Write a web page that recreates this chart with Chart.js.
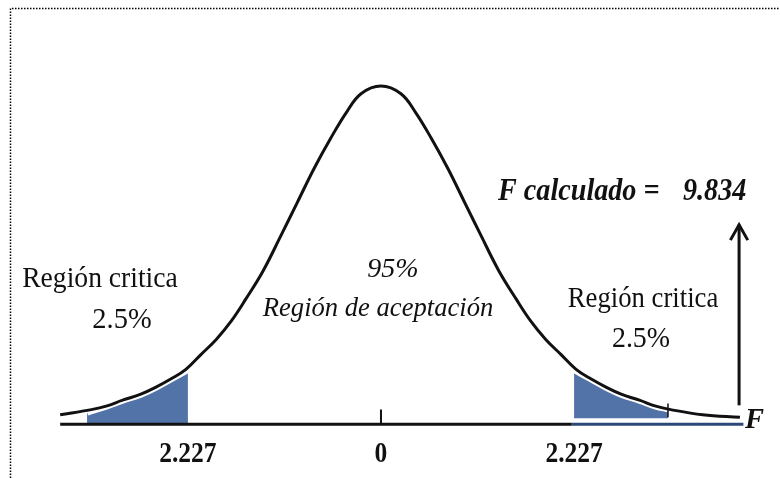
<!DOCTYPE html>
<html>
<head>
<meta charset="utf-8">
<script src="https://cdn.jsdelivr.net/npm/chart.js@4.4.1/dist/chart.umd.min.js"></script>
<style>
  body { margin: 0; background: #fff; }
  #wrap { width: 780px; height: 478px; position: relative; }
</style>
</head>
<body>
<div id="wrap"><canvas id="tChart"></canvas></div>
<script>
// curve (t value, height)
const tValues = [-3.70, -3.34, -3.17, -2.98, -2.77, -2.60, -2.42, -2.25, -2.08, -1.90, -1.73, -1.56, -1.36, -1.16, -0.97, -0.77, -0.58, -0.40, -0.23, 0,
                 0.23, 0.40, 0.58, 0.77, 0.97, 1.16, 1.36, 1.56, 1.73, 1.90, 2.08, 2.25, 2.42, 2.60, 2.77, 2.98, 3.17, 3.34, 3.71, 4.14];
const density = [0.005, 0.011, 0.015, 0.022, 0.029, 0.037, 0.047, 0.058, 0.075, 0.093, 0.114, 0.140, 0.173, 0.213, 0.252, 0.293, 0.328, 0.358, 0.380, 0.389,
                 0.380, 0.358, 0.328, 0.293, 0.252, 0.213, 0.173, 0.140, 0.114, 0.093, 0.075, 0.058, 0.047, 0.037, 0.029, 0.022, 0.015, 0.011, 0.005, 0.002];

// shaded critical regions
const leftTailT = [-3.39, -3.17, -2.98, -2.77, -2.60, -2.42, -2.227];
const leftTailD = [0.008, 0.015, 0.022, 0.029, 0.037, 0.047, 0.058];
const rightTailT = [2.227, 2.42, 2.60, 2.77, 2.98, 3.17, 3.31];
const rightTailD = [0.058, 0.047, 0.037, 0.029, 0.022, 0.015, 0.012];

// axis and ticks
const axisT = [-3.70, 2.20, 4.18];
const axisLevel = -0.006;
const tickValues = [-2.227, 0, 2.227];
const tickLabels = ['2.227', '0', '2.227'];
const zeroTick = [0.011, -0.006];
const endTickT = 3.31;
const endTick = [0.018, 0.002];

// F calculado arrow
const fCalculado = '9.834';
const arrowT = 4.13;
const arrowFrom = 0.016;
const arrowTo = 0.227;

const pts = (xs, ys) => xs.map((x, i) => ({x: x, y: ys[i]}));

function drawText(ctx, text, x, y, font, sx, align) {
    ctx.save();
    ctx.font = font;
    ctx.fillStyle = '#111';
    ctx.textAlign = align || 'center';
    ctx.textBaseline = 'alphabetic';
    ctx.translate(x, y);
    ctx.scale(sx, 1);
    ctx.fillText(text, 0, 0);
    ctx.restore();
}

const labelsPlugin = {
    id: 'labels',
    beforeDraw(chart) {
        const ctx = chart.ctx;
        ctx.save();
        ctx.fillStyle = '#fff';
        ctx.fillRect(0, 0, chart.width, chart.height);
        // dotted frame
        ctx.strokeStyle = '#000';
        ctx.lineWidth = 1.5;
        ctx.setLineDash([1.5, 1.5]);
        ctx.beginPath();
        ctx.moveTo(10.5, chart.height);
        ctx.lineTo(10.5, 8.5);
        ctx.lineTo(chart.width, 8.5);
        ctx.stroke();
        ctx.restore();
    },
    afterDatasetsDraw(chart) {
        const ctx = chart.ctx;
        const xs = chart.scales.x;
        const serif = '"Liberation Serif", "Times New Roman", serif';

        drawText(ctx, 'Región critica', 100, 287, '30px ' + serif, 0.92);
        drawText(ctx, '2.5%', 122, 328, '30px ' + serif, 0.95);
        drawText(ctx, 'Región critica', 643, 307, '30px ' + serif, 0.89);
        drawText(ctx, '2.5%', 641, 347, '30px ' + serif, 0.93);

        drawText(ctx, '95%', 393, 277, 'italic 28px ' + serif, 1);
        drawText(ctx, 'Región de aceptación', 378, 316, 'italic 28px ' + serif, 0.95);

        drawText(ctx, 'F calculado =', 498, 200, 'italic bold 32px ' + serif, 0.88, 'left');
        drawText(ctx, fCalculado, 683, 200, 'italic bold 32px ' + serif, 0.88, 'left');

        drawText(ctx, 'F', 745, 428, 'italic bold 30px ' + serif, 0.95, 'left');

        tickValues.forEach((v, i) => {
            drawText(ctx, tickLabels[i], xs.getPixelForValue(v), 462, 'bold 30px ' + serif, 0.85);
        });
    }
};

const blackLine = {pointRadius: 0, borderColor: '#111', borderWidth: 3, fill: false};

new Chart(document.getElementById('tChart'), {
    type: 'line',
    data: {
        datasets: [
            Object.assign({data: pts(tValues, density), tension: 0.4, order: 0}, blackLine),
            Object.assign({data: pts([axisT[0], axisT[1]], [axisLevel, axisLevel]), order: 1}, blackLine),
            Object.assign({}, blackLine, {data: pts([axisT[1], axisT[2]], [axisLevel, axisLevel]), borderColor: '#2b4878', order: 1}),
            Object.assign({data: pts([0, 0], zeroTick), order: 1}, blackLine, {borderWidth: 2}),
            Object.assign({data: pts([endTickT, endTickT], endTick), order: 1}, blackLine, {borderWidth: 1.5}),
            Object.assign({data: pts([arrowT, arrowT], [arrowFrom, arrowTo]), order: 1}, blackLine),
            Object.assign({data: pts([arrowT - 0.1, arrowT, arrowT + 0.1], [arrowTo - 0.018, arrowTo, arrowTo - 0.018]), order: 1}, blackLine, {borderJoinStyle: 'miter'}),
            {
                data: pts(leftTailT, leftTailD),
                tension: 0.4,
                pointRadius: 0,
                borderColor: '#fff',
                borderWidth: 7,
                backgroundColor: '#5273a8',
                fill: {value: -0.005},
                order: 2
            },
            {
                data: pts(rightTailT, rightTailD),
                tension: 0.4,
                pointRadius: 0,
                borderColor: '#fff',
                borderWidth: 7,
                backgroundColor: '#5273a8',
                fill: {value: 0.001},
                order: 2
            }
        ]
    },
    options: {
        responsive: true,
        maintainAspectRatio: false,
        animation: false,
        layout: {padding: 0},
        plugins: {legend: {display: false}, tooltip: {enabled: false}},
        scales: {
            x: {type: 'linear', min: -4.394, max: 4.602, display: false},
            y: {type: 'linear', min: -0.0689, max: 0.4895, display: false}
        }
    },
    plugins: [labelsPlugin]
});
</script>
</body>
</html>
